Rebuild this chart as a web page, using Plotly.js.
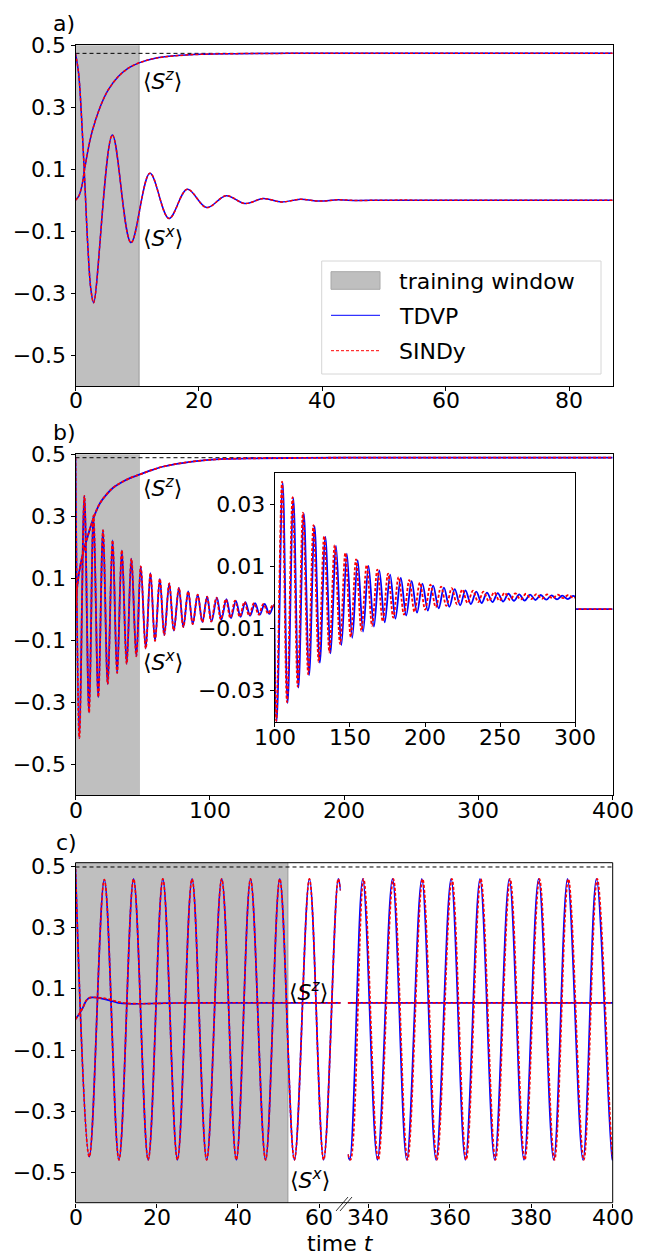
<!DOCTYPE html>
<html><head><meta charset="utf-8">
<script src="https://cdn.plot.ly/plotly-3.0.1.min.js"></script>
<style>html,body{margin:0;padding:0;background:#fff}</style>
</head><body><div id="chart" style="width:647px;height:1257px"></div>
<script>
// ================= DATA =================
// Panel a
const aSxT = [0, 0.5, 1.0, 1.5, 2.0, 2.5, 2.94, 5.97, 8.99, 12.06, 15.14, 18.1, 21.24, 24.4, 27.45, 30.4, 33.4, 36.4, 39.5, 42.5, 45.5, 50, 60, 87];
const aSxV = [0.474, 0.41, 0.26, 0.06, -0.15, -0.29, -0.331, 0.210, -0.137, 0.087, -0.059, 0.035, -0.024, 0.0145, -0.011, 0.005, -0.006, 0.003, -0.003, 0.001, -0.001, 0, 0, 0];
const aSzT = [0, 0.5, 1.0, 1.54, 2.35, 3.16, 4.24, 5.3, 6.93, 8.55, 10.4, 12.9, 16.1, 20.4, 26, 35, 50, 87];
const aSzV = [0, 0.012, 0.043, 0.108, 0.194, 0.253, 0.313, 0.356, 0.399, 0.426, 0.444, 0.458, 0.466, 0.471, 0.473, 0.474, 0.474, 0.474];
const aWindowEnd = 10.3;
const aRefLevel = 0.474;

// Panel b (shared early part, t < 100)
const bSxT0 = [0, 2.9, 6.6, 10.1, 13.4, 17.0, 20.5, 24.0, 27.6, 31.0, 34.5, 38.1, 41.6, 45.3, 48.6, 52.3, 55.8, 59.2, 62.8, 66.1, 69.8, 73.2, 77.0, 80.3, 83.9, 87.3, 91.0, 94.5, 98.0];
const bSxV0 = [0.489, -0.416, 0.366, -0.334, 0.303, -0.284, 0.255, -0.242, 0.222, -0.206, 0.19, -0.176, 0.163, -0.152, 0.138, -0.127, 0.116, -0.102, 0.098, -0.084, 0.083, -0.069, 0.069, -0.058, 0.057, -0.048, 0.047, -0.042, 0.040];
// Panel b late part (t 100..300), SINDy
const bSindyT = [101.0, 104.9, 108.2, 111.9, 115.3, 118.8, 122.3, 125.8, 129.3, 132.9, 136.4, 139.9, 143.5, 147.0, 150.6, 154.1, 157.7, 161.2, 164.8, 168.3, 171.9, 175.4, 178.9, 182.4, 186.0, 189.5, 193.0, 196.6, 200.1, 203.6, 207.2, 210.7, 214.2, 217.8, 221.3, 224.8, 228.3, 231.9, 235.4, 238.9, 242.5, 246.0, 249.5, 253.0, 256.6, 260.1, 263.6, 267.2, 270.7, 274.2, 277.8, 281.3, 284.8, 288.3, 291.9, 295.4, 298.9, 302.4];
const bSindyV = [-0.0397, 0.0373, -0.0337, 0.0323, -0.0287, 0.0273, -0.0247, 0.0233, -0.0207, 0.0198, -0.0177, 0.0169, -0.0150, 0.0144, -0.0127, 0.0123, -0.0107, 0.0105, -0.0091, 0.0090, -0.0077, 0.0077, -0.0065, 0.0066, -0.0055, 0.0056, -0.0046, 0.0048, -0.0039, 0.0041, -0.0032, 0.0035, -0.0027, 0.0030, -0.0022, 0.0026, -0.0018, 0.0022, -0.0015, 0.0019, -0.0012, 0.0017, -0.0010, 0.0015, -0.0008, 0.0013, -0.0007, 0.0012, -0.0005, 0.0011, -0.0004, 0.0010, -0.0003, 0.0009, -0.0002, 0.0008, -0.0002, 0.0007];
// Panel b late part, TDVP
const bTdvpT = [101.3, 105.3, 108.6, 112.4, 115.8, 119.4, 122.9, 126.5, 130.0, 133.7, 137.2, 140.8, 144.4, 148.0, 151.6, 155.2, 158.8, 162.4, 166.0, 169.6, 173.2, 176.8, 180.3, 183.9, 187.5, 191.1, 194.7, 198.3, 201.9, 205.4, 209.1, 212.6, 216.2, 219.8, 223.4, 226.9, 230.5, 234.1, 237.7, 241.2, 244.9, 248.4, 252.0, 255.5, 259.2, 262.7, 266.3, 269.9, 273.5, 277.0, 280.7, 284.2, 287.8, 291.3, 295.0, 298.5, 302.1];
const bTdvpV = [-0.0400, 0.0370, -0.0340, 0.0320, -0.0290, 0.0270, -0.0250, 0.0230, -0.0210, 0.0195, -0.0180, 0.0166, -0.0153, 0.0141, -0.0130, 0.0120, -0.0110, 0.0102, -0.0094, 0.0087, -0.0080, 0.0074, -0.0068, 0.0063, -0.0058, 0.0053, -0.0049, 0.0045, -0.0042, 0.0038, -0.0035, 0.0032, -0.0030, 0.0027, -0.0025, 0.0023, -0.0021, 0.0019, -0.0018, 0.0016, -0.0015, 0.0014, -0.0013, 0.0012, -0.0011, 0.0010, -0.0010, 0.0009, -0.0008, 0.0008, -0.0007, 0.0007, -0.0006, 0.0006, -0.0005, 0.0005, -0.0005];
const bTailT = [310, 400];
const bTailV = [0, 0];
const bSzT = [0, 1.0, 2.2, 3.4, 5.0, 8.3, 13.3, 18.2, 23, 28, 34.4, 41, 48.5, 56, 64, 74, 84, 97, 111, 130, 160, 200, 400];
const bSzV = [0, 0.06, 0.104, 0.136, 0.17, 0.223, 0.293, 0.342, 0.37, 0.392, 0.41, 0.424, 0.436, 0.448, 0.459, 0.468, 0.475, 0.481, 0.485, 0.487, 0.488, 0.489, 0.489];
const bWindowEnd = 48.0;
const bRefLevel = 0.489;

// Panel c (broken axis: 0..65.3 and 334.9..400)
const cSxLT = [0, 3.4, 7.1, 10.7, 14.3, 17.9, 21.5, 25.1, 28.7, 32.3, 36.0, 39.6, 43.1, 46.8, 50.3, 53.9, 57.6, 61.1, 64.7, 65.3];
const cSxLV = [0.491, -0.448, 0.456, -0.458, 0.458, -0.458, 0.458, -0.458, 0.458, -0.458, 0.458, -0.458, 0.458, -0.458, 0.458, -0.458, 0.458, -0.458, 0.458, 0.42];
const cSxRT_tdvp = [334.9, 335.4, 338.6, 342.2, 345.9, 349.4, 353.1, 356.6, 360.3, 363.8, 367.4, 371.0, 374.6, 378.2, 381.8, 385.5, 388.9, 392.7, 396.0, 399.9, 400];
const cSxRT_sindy = [334.9, 335.6, 338.8, 342.4, 346.1, 349.6, 353.3, 356.8, 360.5, 364.0, 367.6, 371.2, 374.8, 378.4, 382.0, 385.7, 389.1, 392.9, 396.2, 400.1, 400.2];
const cSxRV = [-0.44, -0.458, 0.458, -0.458, 0.458, -0.458, 0.458, -0.458, 0.458, -0.458, 0.458, -0.458, 0.458, -0.458, 0.458, -0.458, 0.458, -0.458, 0.458, -0.458, -0.457];
const cSzLT = [0, 1.5, 2.75, 3.6, 5.6, 8.1, 10.5, 13, 16.3, 22.9, 32, 65.3];
const cSzLV_tdvp = [0, 0.03, 0.063, 0.071, 0.070, 0.063, 0.054, 0.051, 0.051, 0.053, 0.054, 0.054];
const cSzLV_sindy = [0, 0.03, 0.063, 0.071, 0.071, 0.066, 0.057, 0.052, 0.051, 0.053, 0.054, 0.054];
const cSzRT = [334.9, 400];
const cSzRV = [0.054, 0.054];
const cWindowEnd = 52.3;
const cRefLevel = 0.497;

// Tick labels
const yTicks = [-0.5, -0.3, -0.1, 0.1, 0.3, 0.5];
const aXTicks = [0, 20, 40, 60, 80];
const bXTicks = [0, 100, 200, 300, 400];
const cXTicksL = [0, 20, 40, 60];
const cXTicksR = [340, 360, 380, 400];
const insetXTicks = [100, 150, 200, 250, 300];
const insetYTicks = [-0.03, -0.01, 0.01, 0.03];

// ================= BUILD =================
const W = 647, H = 1257;
const PX = v => v / W, PY = v => 1 - v / H;
const FONT = 'DejaVu Sans, Arial, sans-serif';
const tickFont = {family: FONT, size: 22, color: '#000'};

const bTdvpAllT = bSxT0.concat(bTdvpT, bTailT), bTdvpAllV = bSxV0.concat(bTdvpV, bTailV);
const bSindyAllT = bSxT0.concat(bSindyT, bTailT), bSindyAllV = bSxV0.concat(bSindyV, bTailV);

function tr(x, y, xa, ya, kind, w) {
  const lw = w || 1.5;
  const line = kind === 'tdvp'
    ? {color: '#0000ff', width: lw, shape: 'spline', smoothing: 1}
    : {color: '#ff0000', width: lw, dash: '3px,2px', shape: 'spline', smoothing: 1};
  return {type: 'scatter', mode: 'lines', x: x, y: y, xaxis: xa, yaxis: ya,
          hoverinfo: 'skip', showlegend: false, line: line};
}

const data = [
  tr(aSxT, aSxV, 'x', 'y', 'tdvp'), tr(aSzT, aSzV, 'x', 'y', 'tdvp'),
  tr(aSxT, aSxV, 'x', 'y', 'sindy'), tr(aSzT, aSzV, 'x', 'y', 'sindy'),
  tr(bTdvpAllT, bTdvpAllV, 'x2', 'y2', 'tdvp', 1.8), tr(bSzT, bSzV, 'x2', 'y2', 'tdvp', 1.8),
  tr(bSindyAllT, bSindyAllV, 'x2', 'y2', 'sindy', 1.8), tr(bSzT, bSzV, 'x2', 'y2', 'sindy', 1.8),
  tr(cSxLT, cSxLV, 'x3', 'y3', 'tdvp', 1.7), tr(cSzLT, cSzLV_tdvp, 'x3', 'y3', 'tdvp', 1.7),
  tr(cSxLT, cSxLV, 'x3', 'y3', 'sindy', 1.7), tr(cSzLT, cSzLV_sindy, 'x3', 'y3', 'sindy', 1.7),
  tr(cSxRT_tdvp, cSxRV, 'x4', 'y3', 'tdvp', 1.7), tr(cSzRT, cSzRV, 'x4', 'y3', 'tdvp', 1.7),
  tr(cSxRT_sindy, cSxRV, 'x4', 'y3', 'sindy', 1.7), tr(cSzRT, cSzRV, 'x4', 'y3', 'sindy', 1.7),
  tr(bTdvpAllT, bTdvpAllV, 'x5', 'y5', 'tdvp', 1.8),
  tr(bSindyAllT, bSindyAllV, 'x5', 'y5', 'sindy', 1.8)
];

function ax(extra) {
  return Object.assign({showgrid: false, zeroline: false, showline: true, linecolor: '#000', linewidth: 1,
    mirror: true, ticks: 'outside', ticklen: 4, tickwidth: 1, tickcolor: '#000',
    tickfont: tickFont, fixedrange: true, tickmode: 'array'}, extra);
}

const xa = [PX(75.5), PX(612.7)];
const layout = {
  width: W, height: H, margin: {l: 0, r: 0, t: 0, b: 0},
  paper_bgcolor: '#fff', plot_bgcolor: '#fff', showlegend: false,
  font: {family: FONT, size: 22, color: '#000'},
  xaxis:  ax({domain: xa, range: [0, 87], anchor: 'y', tickvals: aXTicks, showticklabels: false}),
  yaxis:  ax({domain: [PY(386), PY(45.3)], range: [-0.6, 0.5], anchor: 'x', tickvals: yTicks, tickformat: '.1f'}),
  xaxis2: ax({domain: xa, range: [0, 400], anchor: 'y2', tickvals: bXTicks, showticklabels: false}),
  yaxis2: ax({domain: [PY(795), PY(454.3)], range: [-0.6, 0.5], anchor: 'x2', tickvals: yTicks, tickformat: '.1f'}),
  xaxis3: ax({domain: [PX(75.5), PX(340.7)], range: [0, 65.3], anchor: 'y3', tickvals: cXTicksL, showline: false, mirror: false, showticklabels: false}),
  xaxis4: ax({domain: [PX(347.7), PX(612.7)], range: [334.9, 400], anchor: 'y3', tickvals: cXTicksR, showline: false, mirror: false, showticklabels: false}),
  yaxis3: ax({domain: [PY(1202.7), PY(862.7)], range: [-0.598, 0.511], anchor: 'x3', tickvals: yTicks, tickformat: '.1f', showline: false, mirror: false}),
  xaxis5: ax({domain: [PX(274.7), PX(575.3)], range: [100, 300], anchor: 'y5', tickvals: insetXTicks, showticklabels: false}),
  yaxis5: ax({domain: [PY(722.3), PY(472.7)], range: [-0.0402, 0.0402], anchor: 'x5', tickvals: insetYTicks, tickformat: '.2f'}),
  shapes: [
    {type: 'rect', xref: 'x', yref: 'y domain', x0: 0, x1: aWindowEnd, y0: 0, y1: 1, fillcolor: '#bfbfbf', line: {width: 0}, layer: 'below'},
    {type: 'line', xref: 'x', yref: 'y domain', x0: aWindowEnd, x1: aWindowEnd, y0: 0, y1: 1, line: {color: '#9a9a9a', width: 1}, layer: 'below'},
    {type: 'rect', xref: 'x2', yref: 'y2 domain', x0: 0, x1: bWindowEnd, y0: 0, y1: 1, fillcolor: '#bfbfbf', line: {width: 0}, layer: 'below'},
    {type: 'rect', xref: 'x3', yref: 'y3 domain', x0: 0, x1: cWindowEnd, y0: 0, y1: 1, fillcolor: '#bfbfbf', line: {width: 0}, layer: 'below'},
    {type: 'line', xref: 'x3', yref: 'y3 domain', x0: cWindowEnd, x1: cWindowEnd, y0: 0, y1: 1, line: {color: '#9a9a9a', width: 1}, layer: 'below'},
    {type: 'line', xref: 'x domain', yref: 'y', x0: 0, x1: 1, y0: aRefLevel, y1: aRefLevel, line: {color: '#000', width: 1, dash: '4px,3px'}, layer: 'below'},
    {type: 'line', xref: 'x2 domain', yref: 'y2', x0: 0, x1: 1, y0: bRefLevel, y1: bRefLevel, line: {color: '#000', width: 1, dash: '4px,3px'}, layer: 'below'},
    {type: 'line', xref: 'paper', yref: 'y3', x0: PX(75.5), x1: PX(612.7), y0: cRefLevel, y1: cRefLevel, line: {color: '#000', width: 1, dash: '4px,3px'}, layer: 'above'},
    {type: 'rect', xref: 'paper', yref: 'paper', x0: PX(75.5), x1: PX(612.7), y0: PY(1202.7), y1: PY(862.7), line: {color: '#000', width: 1}, fillcolor: 'rgba(0,0,0,0)', layer: 'above'},
    {type: 'line', xref: 'paper', yref: 'paper', x0: PX(336), x1: PX(348), y0: PY(1211), y1: PY(1197), line: {color: '#000', width: 0.8}, layer: 'above'},
    {type: 'line', xref: 'paper', yref: 'paper', x0: PX(340), x1: PX(352), y0: PY(1211), y1: PY(1197), line: {color: '#000', width: 0.8}, layer: 'above'},
    {type: 'rect', xref: 'paper', yref: 'paper', x0: PX(321.7), x1: PX(601), y0: PY(374), y1: PY(261), line: {color: '#d6d6d6', width: 1}, fillcolor: 'rgba(255,255,255,0.85)', layer: 'above'},
    {type: 'rect', xref: 'paper', yref: 'paper', x0: PX(331), x1: PX(380), y0: PY(289.3), y1: PY(271.7), line: {color: '#a8a8a8', width: 1}, fillcolor: '#bfbfbf', layer: 'above'},
    {type: 'line', xref: 'paper', yref: 'paper', x0: PX(331), x1: PX(380), y0: PY(315.3), y1: PY(315.3), line: {color: '#0000ff', width: 1}, layer: 'above'},
    {type: 'line', xref: 'paper', yref: 'paper', x0: PX(331), x1: PX(380), y0: PY(350.7), y1: PY(350.7), line: {color: '#ff0000', width: 1, dash: '3px,2px'}, layer: 'above'}
  ],
  annotations: []
};

// x tick labels placed through the axes' own scales
function xTickLabels(vals, xref, yref) {
  vals.forEach(v => layout.annotations.push({text: String(v), xref: xref, yref: yref + ' domain',
    x: v, y: 0, xanchor: 'center', yanchor: 'middle', yshift: -15, showarrow: false, font: tickFont}));
}
xTickLabels(aXTicks, 'x', 'y');
xTickLabels(bXTicks, 'x2', 'y2');
xTickLabels(cXTicksL, 'x3', 'y3');
xTickLabels(cXTicksR, 'x4', 'y3');
xTickLabels(insetXTicks, 'x5', 'y5');

function txt(text, x, y, xanchor, size) {
  layout.annotations.push({text: text, xref: 'paper', yref: 'paper', x: PX(x), y: PY(y),
    xanchor: xanchor || 'left', yanchor: 'middle', showarrow: false,
    font: {family: FONT, size: size || 22, color: '#000'}});
}
const SZ = '⟨<i>S</i><sup><i>z</i></sup>⟩', SX = '⟨<i>S</i><sup><i>x</i></sup>⟩';
txt('a)', 64, 24, 'center');
txt('b)', 64, 432, 'center');
txt('c)', 66, 842, 'center');
txt(SZ, 141, 80); txt(SX, 141, 237);
txt(SZ, 141, 487); txt(SX, 141, 661);
txt(SZ, 287, 991); txt(SX, 288, 1179);
txt('training window', 397, 281); txt('TDVP', 397, 316); txt('SINDy', 397, 351);
txt('time <i>t</i>', 340, 1243, 'center');

Plotly.newPlot('chart', data, layout, {staticPlot: true, displayModeBar: false});
</script>
</body></html>
